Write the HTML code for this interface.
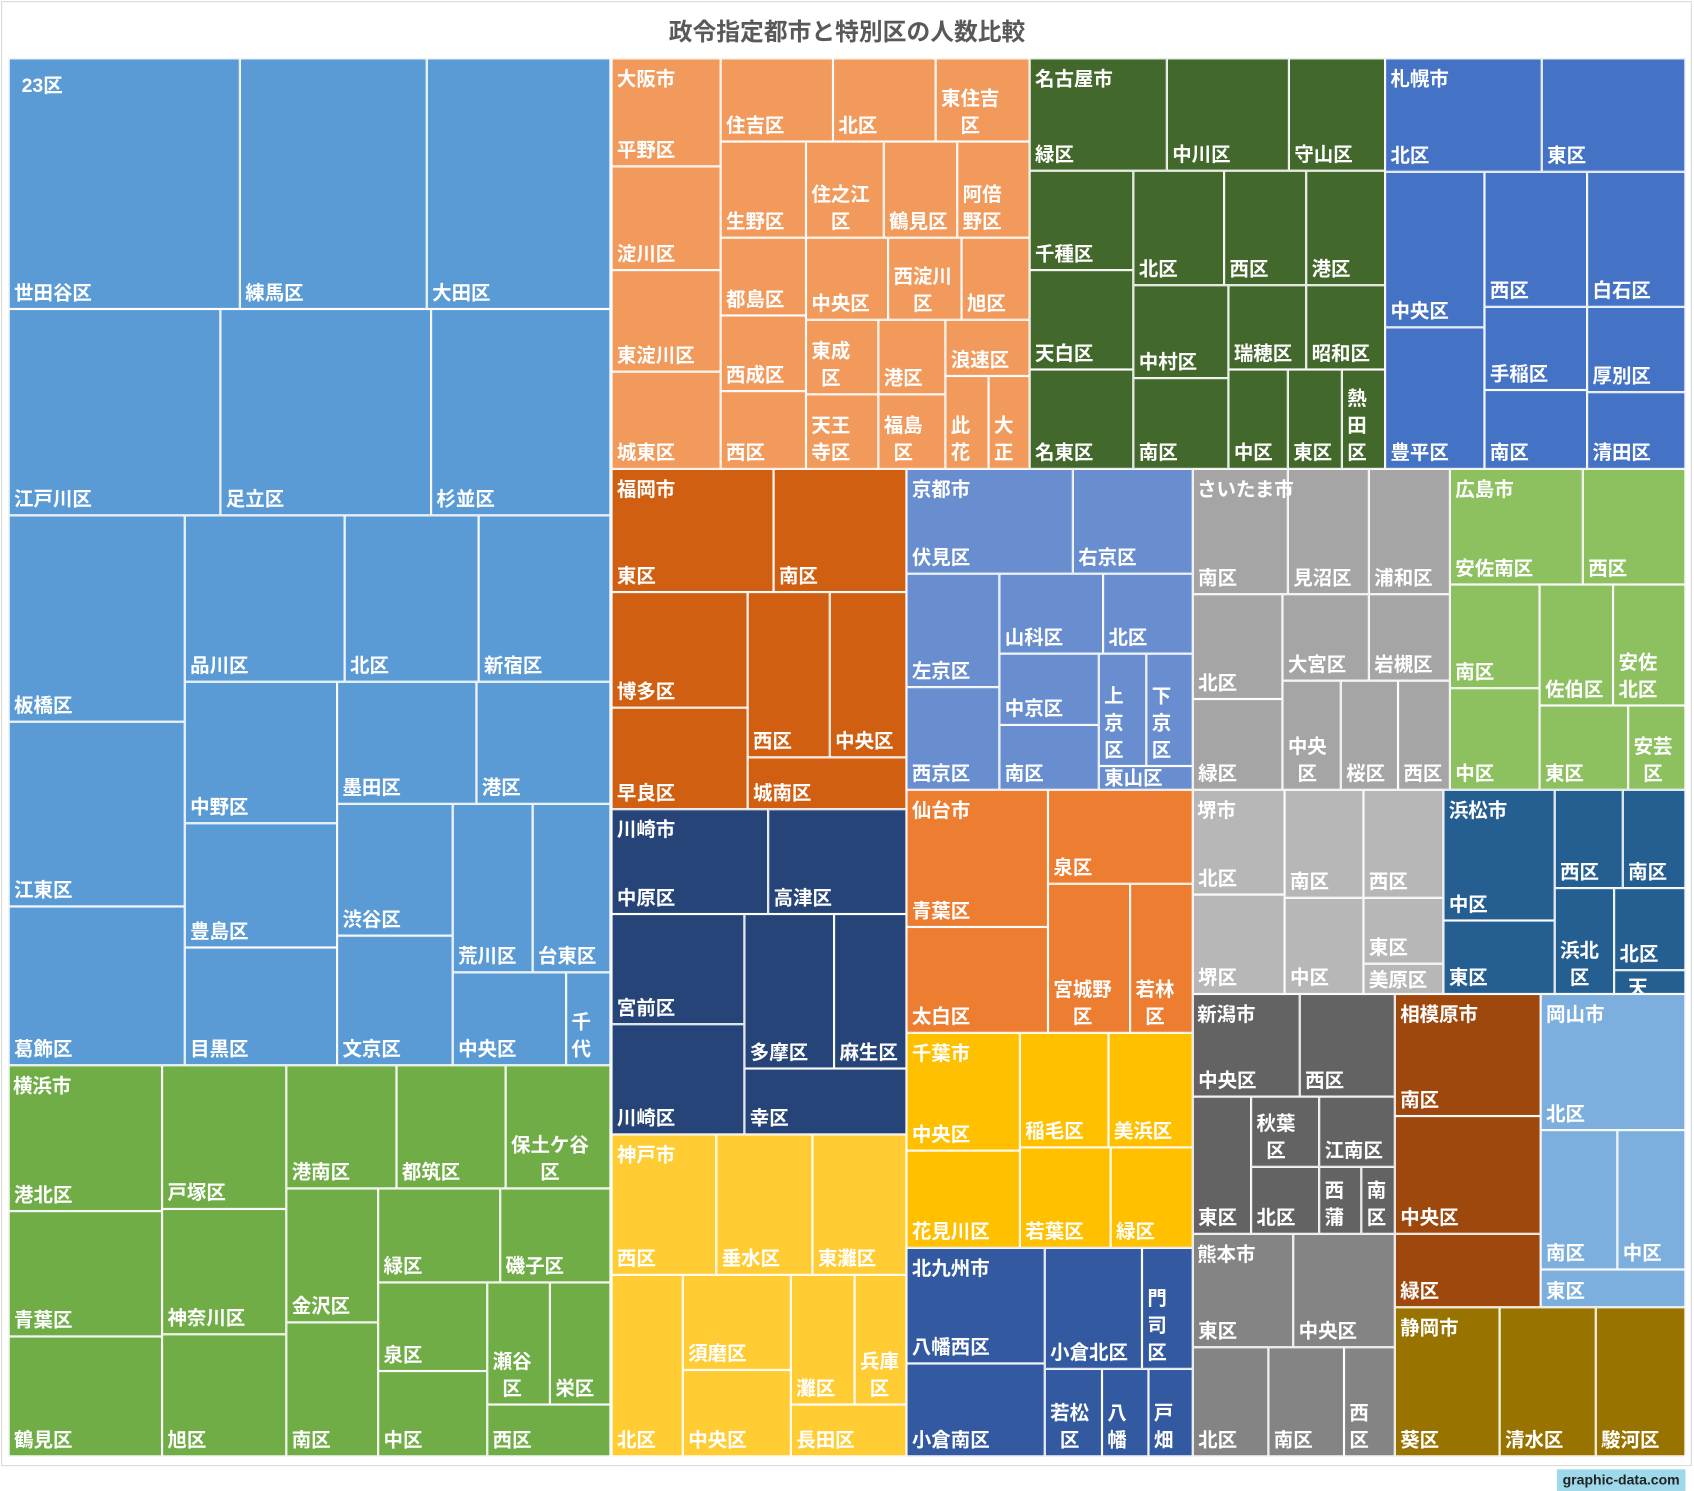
<!DOCTYPE html>
<html><head><meta charset="utf-8"><style>
html,body{margin:0;padding:0;background:#fff;width:1694px;height:1491px;overflow:hidden}
#s{position:absolute;left:0;top:0;width:1568px;height:1380px;transform:scale(1.0804);transform-origin:0 0;font-family:"Liberation Sans","Noto Sans CJK JP",sans-serif}
#frame{position:absolute;left:1px;top:1px;width:1565px;height:1356px;border:1px solid #d9d9d9;box-sizing:border-box}
#t{position:absolute;left:0;width:1568px;top:12px;text-align:center;font-size:22px;font-weight:bold;color:#595959}
.r{position:absolute;box-sizing:border-box;border:1px solid #fff;overflow:hidden}
.r span{position:absolute;left:4px;bottom:1px;color:#fff;font-size:18px;font-weight:bold;line-height:25px;white-space:nowrap}
.r span.w{text-align:center}
.g{position:absolute;color:#fff;font-size:18px;font-weight:bold;line-height:22px;white-space:nowrap}
.c1{background:#5b9bd5}.c2{background:#70ad47}.c3{background:#f19a5c}.c4{background:#43682b}.c5{background:#4472c4}
.c6{background:#d05f12}.c7{background:#698ed0}.c8{background:#a5a5a5}.c9{background:#8dc05f}.c10{background:#264478}
.c11{background:#ed7d31}.c12{background:#b7b7b7}.c13{background:#255e91}.c14{background:#ffc000}.c15{background:#636363}
.c16{background:#9e480e}.c17{background:#7cafdd}.c18{background:#ffcd33}.c19{background:#335aa1}.c20{background:#848484}.c21{background:#997300}
#ft{position:absolute;left:1441px;top:1360px;width:119px;height:20px;background:#9dd9ea;color:#222;font-size:13px;font-weight:bold;line-height:20px;text-align:center}
</style></head><body><div id="s">
<div id="frame"></div>
<div id="t">政令指定都市と特別区の人数比較</div>

<div class="r c1" style="left:8px;top:54px;width:214px;height:232px"><span>世田谷区</span></div>
<div class="r c1" style="left:222px;top:54px;width:173px;height:232px"><span>練馬区</span></div>
<div class="r c1" style="left:395px;top:54px;width:170px;height:232px"><span>大田区</span></div>
<div class="r c1" style="left:8px;top:286px;width:196px;height:191px"><span>江戸川区</span></div>
<div class="r c1" style="left:204px;top:286px;width:195px;height:191px"><span>足立区</span></div>
<div class="r c1" style="left:399px;top:286px;width:166px;height:191px"><span>杉並区</span></div>
<div class="r c1" style="left:8px;top:477px;width:163px;height:191px"><span>板橋区</span></div>
<div class="r c1" style="left:8px;top:668px;width:163px;height:171px"><span>江東区</span></div>
<div class="r c1" style="left:8px;top:839px;width:163px;height:147px"><span>葛飾区</span></div>
<div class="r c1" style="left:171px;top:477px;width:148px;height:154px"><span>品川区</span></div>
<div class="r c1" style="left:319px;top:477px;width:124px;height:154px"><span>北区</span></div>
<div class="r c1" style="left:443px;top:477px;width:122px;height:154px"><span>新宿区</span></div>
<div class="r c1" style="left:171px;top:631px;width:141px;height:131px"><span>中野区</span></div>
<div class="r c1" style="left:171px;top:762px;width:141px;height:115px"><span>豊島区</span></div>
<div class="r c1" style="left:171px;top:877px;width:141px;height:109px"><span>目黒区</span></div>
<div class="r c1" style="left:312px;top:631px;width:129px;height:113px"><span>墨田区</span></div>
<div class="r c1" style="left:441px;top:631px;width:124px;height:113px"><span>港区</span></div>
<div class="r c1" style="left:312px;top:744px;width:107px;height:122px"><span>渋谷区</span></div>
<div class="r c1" style="left:312px;top:866px;width:107px;height:120px"><span>文京区</span></div>
<div class="r c1" style="left:419px;top:744px;width:74px;height:156px"><span>荒川区</span></div>
<div class="r c1" style="left:493px;top:744px;width:72px;height:156px"><span>台東区</span></div>
<div class="r c1" style="left:419px;top:900px;width:105px;height:86px"><span>中央区</span></div>
<div class="r c1" style="left:524px;top:900px;width:41px;height:86px"><span class="w">千<br>代</span></div>
<div class="g" style="left:20px;top:68px">23区</div>

<div class="r c2" style="left:8px;top:986px;width:142px;height:135px"><span>港北区</span></div>
<div class="r c2" style="left:8px;top:1121px;width:142px;height:116px"><span>青葉区</span></div>
<div class="r c2" style="left:8px;top:1237px;width:142px;height:111px"><span>鶴見区</span></div>
<div class="r c2" style="left:150px;top:986px;width:115px;height:133px"><span>戸塚区</span></div>
<div class="r c2" style="left:150px;top:1119px;width:115px;height:116px"><span>神奈川区</span></div>
<div class="r c2" style="left:150px;top:1235px;width:115px;height:113px"><span>旭区</span></div>
<div class="r c2" style="left:265px;top:986px;width:102px;height:114px"><span>港南区</span></div>
<div class="r c2" style="left:367px;top:986px;width:101px;height:114px"><span>都筑区</span></div>
<div class="r c2" style="left:468px;top:986px;width:97px;height:114px"><span class="w">保土ケ谷<br>区</span></div>
<div class="r c2" style="left:265px;top:1100px;width:85px;height:124px"><span>金沢区</span></div>
<div class="r c2" style="left:265px;top:1224px;width:85px;height:124px"><span>南区</span></div>
<div class="r c2" style="left:350px;top:1100px;width:113px;height:87px"><span>緑区</span></div>
<div class="r c2" style="left:463px;top:1100px;width:102px;height:87px"><span>磯子区</span></div>
<div class="r c2" style="left:350px;top:1187px;width:101px;height:82px"><span>泉区</span></div>
<div class="r c2" style="left:350px;top:1269px;width:101px;height:79px"><span>中区</span></div>
<div class="r c2" style="left:451px;top:1187px;width:58px;height:113px"><span class="w">瀬谷<br>区</span></div>
<div class="r c2" style="left:509px;top:1187px;width:56px;height:113px"><span>栄区</span></div>
<div class="r c2" style="left:451px;top:1300px;width:114px;height:48px"><span>西区</span></div>
<div class="g" style="left:12px;top:994px">横浜市</div>

<div class="r c3" style="left:566px;top:54px;width:101px;height:100px"><span>平野区</span></div>
<div class="r c3" style="left:566px;top:154px;width:101px;height:96px"><span>淀川区</span></div>
<div class="r c3" style="left:566px;top:250px;width:101px;height:94px"><span>東淀川区</span></div>
<div class="r c3" style="left:566px;top:344px;width:101px;height:90px"><span>城東区</span></div>
<div class="r c3" style="left:667px;top:54px;width:104px;height:77px"><span>住吉区</span></div>
<div class="r c3" style="left:771px;top:54px;width:95px;height:77px"><span>北区</span></div>
<div class="r c3" style="left:866px;top:54px;width:87px;height:77px"><span class="w">東住吉<br>区</span></div>
<div class="r c3" style="left:667px;top:131px;width:79px;height:89px"><span>生野区</span></div>
<div class="r c3" style="left:667px;top:220px;width:79px;height:72px"><span>都島区</span></div>
<div class="r c3" style="left:667px;top:292px;width:79px;height:70px"><span>西成区</span></div>
<div class="r c3" style="left:667px;top:362px;width:79px;height:72px"><span>西区</span></div>
<div class="r c3" style="left:746px;top:131px;width:72px;height:89px"><span class="w">住之江<br>区</span></div>
<div class="r c3" style="left:818px;top:131px;width:68px;height:89px"><span>鶴見区</span></div>
<div class="r c3" style="left:886px;top:131px;width:67px;height:89px"><span class="w">阿倍<br>野区</span></div>
<div class="r c3" style="left:746px;top:220px;width:76px;height:76px"><span>中央区</span></div>
<div class="r c3" style="left:822px;top:220px;width:68px;height:76px"><span class="w">西淀川<br>区</span></div>
<div class="r c3" style="left:890px;top:220px;width:63px;height:76px"><span>旭区</span></div>
<div class="r c3" style="left:746px;top:296px;width:67px;height:69px"><span class="w">東成<br>区</span></div>
<div class="r c3" style="left:746px;top:365px;width:67px;height:69px"><span class="w">天王<br>寺区</span></div>
<div class="r c3" style="left:813px;top:296px;width:62px;height:69px"><span>港区</span></div>
<div class="r c3" style="left:813px;top:365px;width:62px;height:69px"><span class="w">福島<br>区</span></div>
<div class="r c3" style="left:875px;top:296px;width:78px;height:52px"><span>浪速区</span></div>
<div class="r c3" style="left:875px;top:348px;width:40px;height:86px"><span class="w">此<br>花</span></div>
<div class="r c3" style="left:915px;top:348px;width:38px;height:86px"><span class="w">大<br>正</span></div>
<div class="g" style="left:571px;top:62px">大阪市</div>

<div class="r c4" style="left:953px;top:54px;width:127px;height:104px"><span>緑区</span></div>
<div class="r c4" style="left:1080px;top:54px;width:113px;height:104px"><span>中川区</span></div>
<div class="r c4" style="left:1193px;top:54px;width:89px;height:104px"><span>守山区</span></div>
<div class="r c4" style="left:953px;top:158px;width:96px;height:92px"><span>千種区</span></div>
<div class="r c4" style="left:953px;top:250px;width:96px;height:92px"><span>天白区</span></div>
<div class="r c4" style="left:953px;top:342px;width:96px;height:92px"><span>名東区</span></div>
<div class="r c4" style="left:1049px;top:158px;width:84px;height:106px"><span>北区</span></div>
<div class="r c4" style="left:1133px;top:158px;width:76px;height:106px"><span>西区</span></div>
<div class="r c4" style="left:1209px;top:158px;width:73px;height:106px"><span>港区</span></div>
<div class="r c4" style="left:1049px;top:264px;width:88px;height:86px"><span>中村区</span></div>
<div class="r c4" style="left:1049px;top:350px;width:88px;height:84px"><span>南区</span></div>
<div class="r c4" style="left:1137px;top:264px;width:72px;height:78px"><span>瑞穂区</span></div>
<div class="r c4" style="left:1209px;top:264px;width:73px;height:78px"><span>昭和区</span></div>
<div class="r c4" style="left:1137px;top:342px;width:55px;height:92px"><span>中区</span></div>
<div class="r c4" style="left:1192px;top:342px;width:50px;height:92px"><span>東区</span></div>
<div class="r c4" style="left:1242px;top:342px;width:40px;height:92px"><span class="w">熱<br>田<br>区</span></div>
<div class="g" style="left:958px;top:62px">名古屋市</div>

<div class="r c5" style="left:1282px;top:54px;width:145px;height:105px"><span>北区</span></div>
<div class="r c5" style="left:1427px;top:54px;width:133px;height:105px"><span>東区</span></div>
<div class="r c5" style="left:1282px;top:159px;width:92px;height:144px"><span>中央区</span></div>
<div class="r c5" style="left:1282px;top:303px;width:92px;height:131px"><span>豊平区</span></div>
<div class="r c5" style="left:1374px;top:159px;width:95px;height:125px"><span>西区</span></div>
<div class="r c5" style="left:1469px;top:159px;width:91px;height:125px"><span>白石区</span></div>
<div class="r c5" style="left:1374px;top:284px;width:95px;height:77px"><span>手稲区</span></div>
<div class="r c5" style="left:1374px;top:361px;width:95px;height:73px"><span>南区</span></div>
<div class="r c5" style="left:1469px;top:284px;width:91px;height:79px"><span>厚別区</span></div>
<div class="r c5" style="left:1469px;top:363px;width:91px;height:71px"><span>清田区</span></div>
<div class="g" style="left:1287px;top:62px">札幌市</div>

<div class="r c6" style="left:566px;top:434px;width:150px;height:114px"><span>東区</span></div>
<div class="r c6" style="left:716px;top:434px;width:123px;height:114px"><span>南区</span></div>
<div class="r c6" style="left:566px;top:548px;width:126px;height:107px"><span>博多区</span></div>
<div class="r c6" style="left:566px;top:655px;width:126px;height:94px"><span>早良区</span></div>
<div class="r c6" style="left:692px;top:548px;width:76px;height:153px"><span>西区</span></div>
<div class="r c6" style="left:768px;top:548px;width:71px;height:153px"><span>中央区</span></div>
<div class="r c6" style="left:692px;top:701px;width:147px;height:48px"><span>城南区</span></div>
<div class="g" style="left:571px;top:442px">福岡市</div>

<div class="r c7" style="left:839px;top:434px;width:154px;height:97px"><span>伏見区</span></div>
<div class="r c7" style="left:993px;top:434px;width:111px;height:97px"><span>右京区</span></div>
<div class="r c7" style="left:839px;top:531px;width:86px;height:105px"><span>左京区</span></div>
<div class="r c7" style="left:839px;top:636px;width:86px;height:95px"><span>西京区</span></div>
<div class="r c7" style="left:925px;top:531px;width:96px;height:74px"><span>山科区</span></div>
<div class="r c7" style="left:1021px;top:531px;width:83px;height:74px"><span>北区</span></div>
<div class="r c7" style="left:925px;top:605px;width:92px;height:66px"><span>中京区</span></div>
<div class="r c7" style="left:925px;top:671px;width:92px;height:60px"><span>南区</span></div>
<div class="r c7" style="left:1017px;top:605px;width:44px;height:104px"><span class="w">上<br>京<br>区</span></div>
<div class="r c7" style="left:1061px;top:605px;width:43px;height:104px"><span class="w">下<br>京<br>区</span></div>
<div class="r c7" style="left:1017px;top:709px;width:87px;height:22px"><span style="bottom:-3px">東山区</span></div>
<div class="g" style="left:844px;top:442px">京都市</div>

<div class="r c8" style="left:1104px;top:434px;width:88px;height:116px"><span>南区</span></div>
<div class="r c8" style="left:1192px;top:434px;width:75px;height:116px"><span>見沼区</span></div>
<div class="r c8" style="left:1267px;top:434px;width:75px;height:116px"><span>浦和区</span></div>
<div class="r c8" style="left:1104px;top:550px;width:83px;height:97px"><span>北区</span></div>
<div class="r c8" style="left:1104px;top:647px;width:83px;height:84px"><span>緑区</span></div>
<div class="r c8" style="left:1187px;top:550px;width:80px;height:80px"><span>大宮区</span></div>
<div class="r c8" style="left:1267px;top:550px;width:75px;height:80px"><span>岩槻区</span></div>
<div class="r c8" style="left:1187px;top:630px;width:54px;height:101px"><span class="w">中央<br>区</span></div>
<div class="r c8" style="left:1241px;top:630px;width:53px;height:101px"><span>桜区</span></div>
<div class="r c8" style="left:1294px;top:630px;width:48px;height:101px"><span>西区</span></div>
<div class="g" style="left:1108px;top:442px">さいたま市</div>

<div class="r c9" style="left:1342px;top:434px;width:123px;height:107px"><span>安佐南区</span></div>
<div class="r c9" style="left:1465px;top:434px;width:95px;height:107px"><span>西区</span></div>
<div class="r c9" style="left:1342px;top:541px;width:83px;height:96px"><span>南区</span></div>
<div class="r c9" style="left:1342px;top:637px;width:83px;height:94px"><span>中区</span></div>
<div class="r c9" style="left:1425px;top:541px;width:68px;height:112px"><span>佐伯区</span></div>
<div class="r c9" style="left:1493px;top:541px;width:67px;height:112px"><span class="w">安佐<br>北区</span></div>
<div class="r c9" style="left:1425px;top:653px;width:82px;height:78px"><span>東区</span></div>
<div class="r c9" style="left:1507px;top:653px;width:53px;height:78px"><span class="w">安芸<br>区</span></div>
<div class="g" style="left:1347px;top:442px">広島市</div>

<div class="r c10" style="left:566px;top:749px;width:145px;height:97px"><span>中原区</span></div>
<div class="r c10" style="left:711px;top:749px;width:128px;height:97px"><span>高津区</span></div>
<div class="r c10" style="left:566px;top:846px;width:123px;height:102px"><span>宮前区</span></div>
<div class="r c10" style="left:566px;top:948px;width:123px;height:102px"><span>川崎区</span></div>
<div class="r c10" style="left:689px;top:846px;width:83px;height:143px"><span>多摩区</span></div>
<div class="r c10" style="left:772px;top:846px;width:67px;height:143px"><span>麻生区</span></div>
<div class="r c10" style="left:689px;top:989px;width:150px;height:61px"><span>幸区</span></div>
<div class="g" style="left:571px;top:757px">川崎市</div>

<div class="r c11" style="left:839px;top:731px;width:131px;height:127px"><span>青葉区</span></div>
<div class="r c11" style="left:839px;top:858px;width:131px;height:98px"><span>太白区</span></div>
<div class="r c11" style="left:970px;top:731px;width:134px;height:87px"><span>泉区</span></div>
<div class="r c11" style="left:970px;top:818px;width:76px;height:138px"><span class="w">宮城野<br>区</span></div>
<div class="r c11" style="left:1046px;top:818px;width:58px;height:138px"><span class="w">若林<br>区</span></div>
<div class="g" style="left:844px;top:739px">仙台市</div>

<div class="r c12" style="left:1104px;top:731px;width:85px;height:97px"><span>北区</span></div>
<div class="r c12" style="left:1104px;top:828px;width:85px;height:92px"><span>堺区</span></div>
<div class="r c12" style="left:1189px;top:731px;width:73px;height:100px"><span>南区</span></div>
<div class="r c12" style="left:1262px;top:731px;width:74px;height:100px"><span>西区</span></div>
<div class="r c12" style="left:1189px;top:831px;width:73px;height:89px"><span>中区</span></div>
<div class="r c12" style="left:1262px;top:831px;width:74px;height:61px"><span>東区</span></div>
<div class="r c12" style="left:1262px;top:892px;width:74px;height:28px"><span style="bottom:-1px">美原区</span></div>
<div class="g" style="left:1108px;top:739px">堺市</div>

<div class="r c13" style="left:1336px;top:731px;width:103px;height:121px"><span>中区</span></div>
<div class="r c13" style="left:1336px;top:852px;width:103px;height:68px"><span>東区</span></div>
<div class="r c13" style="left:1439px;top:731px;width:63px;height:91px"><span>西区</span></div>
<div class="r c13" style="left:1502px;top:731px;width:58px;height:91px"><span>南区</span></div>
<div class="r c13" style="left:1439px;top:822px;width:55px;height:98px"><span class="w">浜北<br>区</span></div>
<div class="r c13" style="left:1494px;top:822px;width:66px;height:76px"><span>北区</span></div>
<div class="r c13" style="left:1494px;top:898px;width:66px;height:22px"><span class="w" style="left:12px;bottom:-8px">天</span></div>
<div class="g" style="left:1341px;top:739px">浜松市</div>

<div class="r c14" style="left:839px;top:956px;width:105px;height:109px"><span>中央区</span></div>
<div class="r c14" style="left:839px;top:1065px;width:105px;height:90px"><span>花見川区</span></div>
<div class="r c14" style="left:944px;top:956px;width:82px;height:106px"><span>稲毛区</span></div>
<div class="r c14" style="left:1026px;top:956px;width:78px;height:106px"><span>美浜区</span></div>
<div class="r c14" style="left:944px;top:1062px;width:84px;height:93px"><span>若葉区</span></div>
<div class="r c14" style="left:1028px;top:1062px;width:76px;height:93px"><span>緑区</span></div>
<div class="g" style="left:844px;top:964px">千葉市</div>

<div class="r c15" style="left:1104px;top:920px;width:99px;height:95px"><span>中央区</span></div>
<div class="r c15" style="left:1203px;top:920px;width:88px;height:95px"><span>西区</span></div>
<div class="r c15" style="left:1104px;top:1015px;width:54px;height:127px"><span>東区</span></div>
<div class="r c15" style="left:1158px;top:1015px;width:63px;height:65px"><span class="w">秋葉<br>区</span></div>
<div class="r c15" style="left:1221px;top:1015px;width:70px;height:65px"><span>江南区</span></div>
<div class="r c15" style="left:1158px;top:1080px;width:63px;height:62px"><span>北区</span></div>
<div class="r c15" style="left:1221px;top:1080px;width:39px;height:62px"><span class="w">西<br>蒲</span></div>
<div class="r c15" style="left:1260px;top:1080px;width:31px;height:62px"><span class="w">南<br>区</span></div>
<div class="g" style="left:1108px;top:928px">新潟市</div>

<div class="r c16" style="left:1291px;top:920px;width:135px;height:113px"><span>南区</span></div>
<div class="r c16" style="left:1291px;top:1033px;width:135px;height:109px"><span>中央区</span></div>
<div class="r c16" style="left:1291px;top:1142px;width:135px;height:68px"><span>緑区</span></div>
<div class="g" style="left:1296px;top:928px">相模原市</div>

<div class="r c17" style="left:1426px;top:920px;width:134px;height:126px"><span>北区</span></div>
<div class="r c17" style="left:1426px;top:1046px;width:71px;height:129px"><span>南区</span></div>
<div class="r c17" style="left:1497px;top:1046px;width:63px;height:129px"><span>中区</span></div>
<div class="r c17" style="left:1426px;top:1175px;width:134px;height:35px"><span>東区</span></div>
<div class="g" style="left:1431px;top:928px">岡山市</div>

<div class="r c18" style="left:566px;top:1050px;width:97px;height:130px"><span>西区</span></div>
<div class="r c18" style="left:663px;top:1050px;width:89px;height:130px"><span>垂水区</span></div>
<div class="r c18" style="left:752px;top:1050px;width:87px;height:130px"><span>東灘区</span></div>
<div class="r c18" style="left:566px;top:1180px;width:66px;height:168px"><span>北区</span></div>
<div class="r c18" style="left:632px;top:1180px;width:100px;height:88px"><span>須磨区</span></div>
<div class="r c18" style="left:632px;top:1268px;width:100px;height:80px"><span>中央区</span></div>
<div class="r c18" style="left:732px;top:1180px;width:59px;height:120px"><span>灘区</span></div>
<div class="r c18" style="left:791px;top:1180px;width:48px;height:120px"><span class="w">兵庫<br>区</span></div>
<div class="r c18" style="left:732px;top:1300px;width:107px;height:48px"><span>長田区</span></div>
<div class="g" style="left:571px;top:1058px">神戸市</div>

<div class="r c19" style="left:839px;top:1155px;width:128px;height:107px"><span>八幡西区</span></div>
<div class="r c19" style="left:839px;top:1262px;width:128px;height:86px"><span>小倉南区</span></div>
<div class="r c19" style="left:967px;top:1155px;width:90px;height:112px"><span>小倉北区</span></div>
<div class="r c19" style="left:1057px;top:1155px;width:47px;height:112px"><span class="w">門<br>司<br>区</span></div>
<div class="r c19" style="left:967px;top:1267px;width:53px;height:81px"><span class="w">若松<br>区</span></div>
<div class="r c19" style="left:1020px;top:1267px;width:43px;height:81px"><span class="w">八<br>幡</span></div>
<div class="r c19" style="left:1063px;top:1267px;width:41px;height:81px"><span class="w">戸<br>畑</span></div>
<div class="g" style="left:844px;top:1163px">北九州市</div>

<div class="r c20" style="left:1104px;top:1142px;width:93px;height:105px"><span>東区</span></div>
<div class="r c20" style="left:1197px;top:1142px;width:94px;height:105px"><span>中央区</span></div>
<div class="r c20" style="left:1104px;top:1247px;width:70px;height:101px"><span>北区</span></div>
<div class="r c20" style="left:1174px;top:1247px;width:70px;height:101px"><span>南区</span></div>
<div class="r c20" style="left:1244px;top:1247px;width:47px;height:101px"><span class="w">西<br>区</span></div>
<div class="g" style="left:1108px;top:1150px">熊本市</div>

<div class="r c21" style="left:1291px;top:1210px;width:97px;height:138px"><span>葵区</span></div>
<div class="r c21" style="left:1388px;top:1210px;width:89px;height:138px"><span>清水区</span></div>
<div class="r c21" style="left:1477px;top:1210px;width:83px;height:138px"><span>駿河区</span></div>
<div class="g" style="left:1296px;top:1218px">静岡市</div>

<div id="ft">graphic-data.com</div>
</div></body></html>
